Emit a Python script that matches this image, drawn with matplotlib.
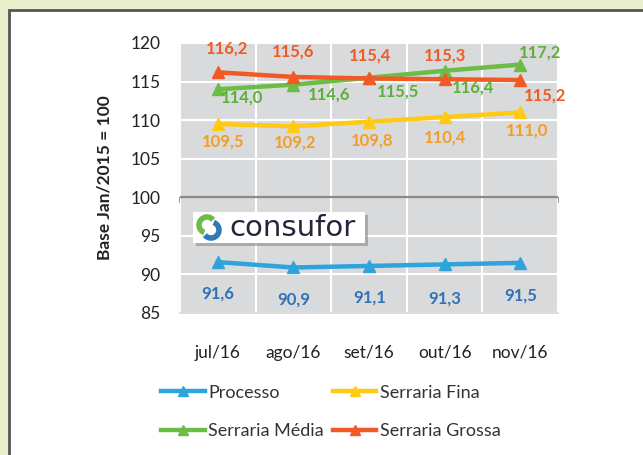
import matplotlib
matplotlib.use("Agg")
import matplotlib.pyplot as plt
from matplotlib.patches import Rectangle, Arc
from matplotlib.ticker import MultipleLocator

plt.rcParams['font.family'] = ['Lato', 'DejaVu Sans']

months = ["jul/16", "ago/16", "set/16", "out/16", "nov/16"]
processo = [91.6, 90.9, 91.1, 91.3, 91.5]
serraria_fina = [109.5, 109.2, 109.8, 110.4, 111.0]
serraria_media = [114.0, 114.6, 115.5, 116.4, 117.2]
serraria_grossa = [116.2, 115.6, 115.4, 115.3, 115.2]

# label offsets in pixels (dx, dy) for the value annotations
off_processo = [(0, -31), (0, -32), (1, -32), (0, -34), (0, -33)]
off_fina = [(5, -18), (2, -16), (3, -19), (0, -20), (7, -18)]
off_media = [(24, -8), (36, -10), (29, -14), (28, -17), (20, 12)]
off_grossa = [(9, 24), (0, 25), (1, 23), (0, 24), (25, -15)]

series = [
    ("Processo", processo, "#2ea3dc", "#2f72b8", off_processo),
    ("Serraria Fina", serraria_fina, "#ffc914", "#f59d25", off_fina),
    ("Serraria Média", serraria_media, "#6cbd45", "#5cb03a", off_media),
    ("Serraria Grossa", serraria_grossa, "#f15a24", "#f15a24", off_grossa),
]

W, H = 643, 455
fig = plt.figure(figsize=(W / 100, H / 100), dpi=100)
fig.patch.set_facecolor("#e9eecb")

# white panel with dark border
fig.patches.append(Rectangle((9 / W, -0.1), 1.2, 1 - 10 / H + 0.1,
                             transform=fig.transFigure, facecolor="white",
                             edgecolor="#555555", linewidth=2, zorder=-10))

ax = fig.add_axes([180 / W, 1 - 313 / H, 378 / W, 270 / H])
ax.set_facecolor("#d9dadc")
x = list(range(len(months)))

handles = {}
for name, vals, color, lcolor, offs in series:
    ln, = ax.plot(x, vals, color=color, linewidth=3.2, marker="^",
                  markersize=9, zorder=3, label=name)
    handles[name] = ln
    for xi, v, (dx, dy) in zip(x, vals, offs):
        ax.annotate(f"{v:.1f}".replace(".", ","), (xi, v), xytext=(dx, dy),
                    textcoords="offset pixels", ha="center", va="center",
                    color=lcolor, fontsize=12, fontweight="bold", zorder=4)

ax.set_xlim(-0.5, 4.5)
ax.set_ylim(85, 120)
ax.yaxis.set_major_locator(MultipleLocator(5))
ax.set_xticks(x)
ax.set_xticklabels(months)
ax.set_xticks([i - 0.5 for i in range(len(months) + 1)], minor=True)
ax.grid(True, which="major", axis="y", color="white", linewidth=1.5)
ax.grid(True, which="minor", axis="x", color="white", linewidth=1.5)
ax.set_axisbelow(True)
for s in ["top", "right", "left"]:
    ax.spines[s].set_visible(False)
ax.spines["bottom"].set_color("#d4d4d4")
ax.spines["bottom"].set_linewidth(1.2)
ax.tick_params(axis="both", which="both", length=0)
ax.tick_params(axis="y", labelsize=12.5, pad=14, labelcolor="#222222")
ax.tick_params(axis="x", labelsize=12.5, pad=23, labelcolor="#222222")

# axis line crossing at 100
ax.axhline(100, color="#8a8a8a", linewidth=1.6, zorder=2)
sec = ax.secondary_xaxis(15 / 35)
sec.set_xticks([i - 0.5 for i in range(len(months) + 1)])
sec.set_xticklabels([])
sec.tick_params(length=4, color="#8a8a8a", width=1.2, direction="out")
for s in sec.spines.values():
    s.set_color("#8a8a8a")

ax.set_ylabel("Base Jan/2015 = 100", fontsize=12.5, fontweight="bold",
              color="#222222")
ax.yaxis.set_label_coords(-68 / 378, 0.5)

leg = fig.legend([handles["Processo"], handles["Serraria Média"],
                  handles["Serraria Fina"], handles["Serraria Grossa"]],
                 ["Processo", "Serraria Média", "Serraria Fina", "Serraria Grossa"],
                 ncol=2, frameon=False, fontsize=13,
                 loc="center left", bbox_to_anchor=(145 / W, 1 - 412 / H),
                 handlelength=2.4, labelspacing=1.25, columnspacing=0.5,
                 handletextpad=0.2, markerscale=0.8)
for t in leg.get_texts():
    t.set_color("#333333")

# consufor logo
fig.patches.append(Rectangle((196 / W, 1 - 246 / H), 172 / W, 31 / H,
                             transform=fig.transFigure, facecolor="#8a8a8a",
                             edgecolor="none", alpha=0.6, zorder=5))
lax = fig.add_axes([193 / W, 1 - 243 / H, 172 / W, 31 / H], zorder=6)
lax.set_xlim(0, 172)
lax.set_ylim(0, 31)
lax.axis("off")
lax.add_patch(Rectangle((0, 0), 172, 31, facecolor="white", edgecolor="none"))
lax.add_patch(Arc((14, 18), 16, 16, theta1=40, theta2=250, color="#6cbd45", linewidth=4))
lax.add_patch(Arc((18, 13), 16, 16, theta1=220, theta2=430, color="#2e7bb8", linewidth=4))
lax.text(36, 15, "consufor", fontsize=21, color="#23263a", va="center",
         ha="left", family=["DejaVu Sans"])

fig.savefig("out.png", dpi=100, facecolor=fig.get_facecolor())
